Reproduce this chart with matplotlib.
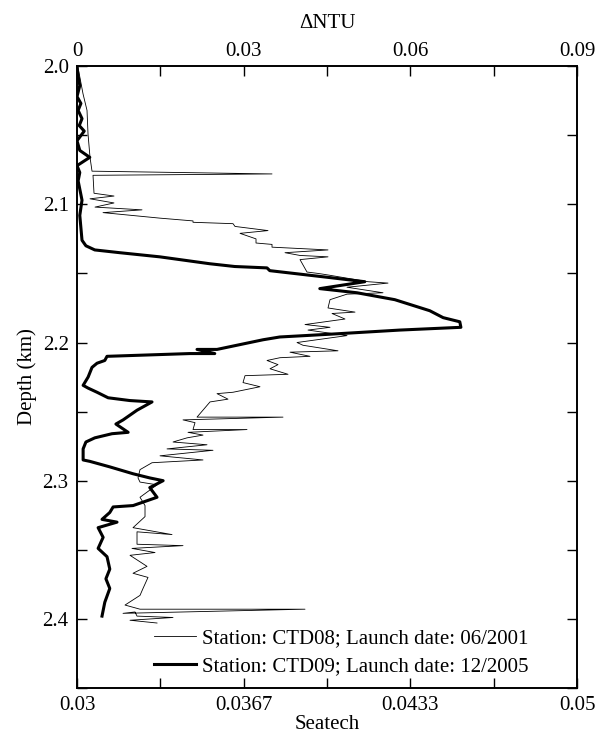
import matplotlib.pyplot as plt
import numpy as np

# CTD08 (Seatech, bottom axis), depth in km
depth08 = [2.001, 2.020, 2.032, 2.049, 2.066, 2.076, 2.078, 2.079, 2.092, 2.094,
           2.096, 2.099, 2.102, 2.104, 2.106, 2.110, 2.112, 2.113, 2.114, 2.116,
           2.119, 2.121, 2.125, 2.128, 2.129, 2.131, 2.133, 2.135, 2.137, 2.138,
           2.140, 2.149, 2.150, 2.151, 2.156, 2.157, 2.160, 2.164, 2.165, 2.169,
           2.175, 2.178, 2.179, 2.183, 2.187, 2.189, 2.191, 2.195, 2.200, 2.202,
           2.206, 2.207, 2.210, 2.211, 2.213, 2.216, 2.219, 2.223, 2.224, 2.229,
           2.232, 2.236, 2.237, 2.241, 2.243, 2.254, 2.254, 2.256, 2.258, 2.263,
           2.263, 2.265, 2.267, 2.269, 2.272, 2.274, 2.277, 2.278, 2.282, 2.285,
           2.287, 2.292, 2.298, 2.301, 2.303, 2.312, 2.318, 2.326, 2.334, 2.339,
           2.337, 2.346, 2.347, 2.349, 2.352, 2.354, 2.362, 2.367, 2.370, 2.378,
           2.383, 2.390, 2.393, 2.393, 2.396, 2.395, 2.398, 2.399, 2.401, 2.403]
seatech08 = [0.03004, 0.03024, 0.03040, 0.03044, 0.03052, 0.03060, 0.03780, 0.03064, 0.03068, 0.03148,
             0.03052, 0.03148, 0.03072, 0.03260, 0.03104, 0.03332, 0.03464, 0.03464, 0.03624, 0.03632,
             0.03764, 0.03652, 0.03716, 0.03716, 0.03780, 0.03780, 0.04004, 0.03832, 0.03892, 0.04004,
             0.03892, 0.03920, 0.03964, 0.04000, 0.04164, 0.04244, 0.04080, 0.04224, 0.04080, 0.04012,
             0.04004, 0.04112, 0.04020, 0.04072, 0.03912, 0.04012, 0.03924, 0.04080, 0.03880, 0.03904,
             0.04044, 0.03852, 0.03932, 0.03812, 0.03760, 0.03804, 0.03772, 0.03844, 0.03672, 0.03664,
             0.03732, 0.03624, 0.03560, 0.03604, 0.03532, 0.03480, 0.03824, 0.03424, 0.03472, 0.03464,
             0.03680, 0.03444, 0.03504, 0.03440, 0.03384, 0.03520, 0.03360, 0.03544, 0.03332, 0.03504,
             0.03300, 0.03252, 0.03244, 0.03252, 0.03320, 0.03252, 0.03272, 0.03272, 0.03224, 0.03380,
             0.03240, 0.03240, 0.03424, 0.03220, 0.03312, 0.03212, 0.03280, 0.03224, 0.03284, 0.03264,
             0.03252, 0.03192, 0.03252, 0.03912, 0.03184, 0.03232, 0.03240, 0.03384, 0.03212, 0.03320]

# CTD09 (ΔNTU, top axis)
depth09 = [2.001, 2.007, 2.014, 2.022, 2.027, 2.032, 2.038, 2.043, 2.047, 2.054,
           2.061, 2.066, 2.072, 2.077, 2.083, 2.089, 2.097, 2.108, 2.117, 2.126,
           2.130, 2.133, 2.135, 2.138, 2.143, 2.145, 2.146, 2.148, 2.153, 2.156,
           2.161, 2.164, 2.169, 2.177, 2.182, 2.185, 2.189, 2.191, 2.194, 2.196,
           2.198, 2.205, 2.205, 2.208, 2.208, 2.210, 2.213, 2.215, 2.218, 2.225,
           2.231, 2.233, 2.236, 2.240, 2.242, 2.243, 2.249, 2.256, 2.259, 2.265,
           2.266, 2.269, 2.272, 2.277, 2.285, 2.286, 2.290, 2.295, 2.298, 2.300,
           2.305, 2.312, 2.318, 2.319, 2.323, 2.328, 2.330, 2.334, 2.341, 2.349,
           2.355, 2.364, 2.371, 2.378, 2.388, 2.398]
dntu09 = [0.0000, 0.0002, 0.0005, 0.0000, 0.0007, 0.0002, 0.0009, 0.0004, 0.0013, 0.0000,
          0.0005, 0.0023, 0.0000, 0.0005, 0.0002, 0.0005, 0.0009, 0.0005, 0.0007, 0.0009,
          0.0016, 0.0032, 0.0077, 0.0149, 0.0239, 0.0284, 0.0342, 0.0347, 0.0455, 0.0518,
          0.0437, 0.0504, 0.0572, 0.0635, 0.0659, 0.0689, 0.0691, 0.0581, 0.0455, 0.0365,
          0.0335, 0.0252, 0.0216, 0.0248, 0.0203, 0.0054, 0.0050, 0.0036, 0.0027, 0.0020,
          0.0011, 0.0020, 0.0036, 0.0056, 0.0095, 0.0135, 0.0108, 0.0083, 0.0070, 0.0092,
          0.0063, 0.0032, 0.0016, 0.0011, 0.0011, 0.0023, 0.0059, 0.0101, 0.0131, 0.0155,
          0.0131, 0.0144, 0.0101, 0.0065, 0.0059, 0.0045, 0.0072, 0.0038, 0.0047, 0.0038,
          0.0054, 0.0059, 0.0052, 0.0059, 0.0050, 0.0045]

bottom_ticks = np.linspace(0.03, 0.05, 7)
bottom_labels = ['0.03', '', '0.0367', '', '0.0433', '', '0.05']
top_ticks = np.linspace(0, 0.09, 7)
top_labels = ['0', '', '0.03', '', '0.06', '', '0.09']
depth_ticks = np.linspace(2.0, 2.45, 10)
depth_labels = ['2.0', '', '2.1', '', '2.2', '', '2.3', '', '2.4', '']

plt.rcParams['font.family'] = 'Liberation Serif'
plt.rcParams['font.size'] = 15

fig = plt.figure(figsize=(5.97, 7.35), dpi=100)
ax = fig.add_axes([0.129, 0.064, 0.8375, 0.846])
ax2 = ax.twiny()

l1, = ax.plot(seatech08, depth08, color='black', lw=0.6,
              label='Station: CTD08; Launch date: 06/2001')
l2, = ax2.plot(dntu09, depth09, color='black', lw=2.2,
               label='Station: CTD09; Launch date: 12/2005')

ax.set_xlim(0.03, 0.05)
ax2.set_xlim(0, 0.09)
ax.set_ylim(2.45, 2.0)

ax.set_xticks(bottom_ticks)
ax.set_xticklabels(bottom_labels)
ax2.set_xticks(top_ticks)
ax2.set_xticklabels(top_labels)
ax.set_yticks(depth_ticks)
ax.set_yticklabels(depth_labels)

ax.tick_params(direction='in', length=7, width=1, right=True, pad=6)
ax2.tick_params(direction='in', length=7, width=1, pad=4)
for a in (ax, ax2):
    for s in a.spines.values():
        s.set_linewidth(1.2)

ax.set_xlabel('Seatech', labelpad=0)
ax2.set_xlabel('ΔNTU', labelpad=10)
ax.set_ylabel('Depth (km)', labelpad=4)

ax2.legend(handles=[l1, l2], loc='lower right', frameon=False,
           bbox_to_anchor=(0.92, 0.005), borderaxespad=0,
           handlelength=2.0, handletextpad=0.3, labelspacing=0.4)

fig.savefig('out.png', dpi=100)
